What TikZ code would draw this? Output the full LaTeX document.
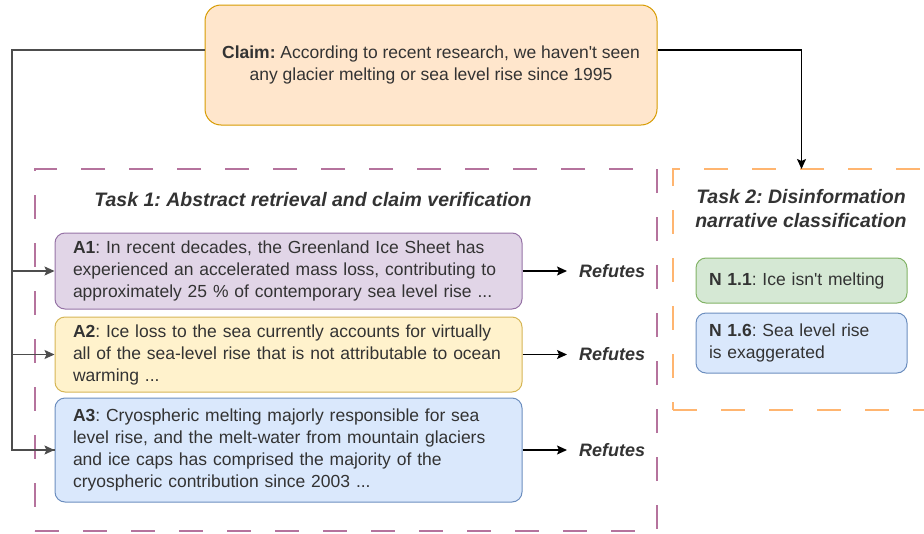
\documentclass[tikz,border=0pt]{standalone}
\usepackage{fontspec}
\setmainfont{Liberation Sans}
\usetikzlibrary{arrows.meta,positioning}
\definecolor{txt}{HTML}{333333}
\definecolor{claimfill}{HTML}{FFE6CC}\definecolor{claimdraw}{HTML}{D79B00}
\definecolor{purfill}{HTML}{E1D5E7}\definecolor{purdraw}{HTML}{9673A6}
\definecolor{yelfill}{HTML}{FFF2CC}\definecolor{yeldraw}{HTML}{D6B656}
\definecolor{blufill}{HTML}{DAE8FC}\definecolor{bludraw}{HTML}{6C8EBF}
\definecolor{grnfill}{HTML}{D5E8D4}\definecolor{grndraw}{HTML}{82B366}
\definecolor{taskpur}{HTML}{B5739D}\definecolor{taskora}{HTML}{FFB570}
\definecolor{busgray}{HTML}{4D4D4D}
\tikzset{
  basefont/.style={font=\fontsize{17.5}{22}\selectfont, text=txt},
  absbox/.style={basefont, draw, line width=1pt, rounded corners=10pt, align=left,
     minimum width=467pt, text width=431pt, inner xsep=18pt, inner ysep=0pt},
  narbox/.style={basefont, draw, line width=1pt, rounded corners=10pt, align=left,
     minimum width=211pt, text width=185pt, inner xsep=13pt, inner ysep=0pt},
  taskbox/.style={draw, line width=2.5pt, dash pattern=on 24pt off 24pt, inner sep=0pt},
  tasktitle/.style={text=txt, font=\fontsize{19.5}{24}\selectfont\bfseries\itshape, align=center},
  verdict/.style={text=txt, font=\fontsize{18}{22}\selectfont\bfseries\itshape, anchor=west, inner xsep=12pt, inner ysep=0pt},
  tip/.style={-{Stealth[length=10pt,width=9pt,inset=2pt]}},
  busline/.style={draw=busgray, line width=1.4pt},
}
\begin{document}
\frenchspacing
\begin{tikzpicture}[x=1pt,y=-1pt]
\useasboundingbox (0,0) rectangle (924,533);
\clip (0,0) rectangle (924,533);

% task frames
\node[taskbox, draw=taskpur, minimum width=622pt, minimum height=362pt] (task1) at (346,350) {};
\node[taskbox, draw=taskora, minimum width=267pt, minimum height=241pt] (task2) at (806.5,289.5) {};

% claim
\node[basefont, draw=claimdraw, fill=claimfill, line width=1pt, rounded corners=16pt,
      minimum width=452pt, minimum height=120pt, align=center] (claim) at (431,65)
  {\textbf{Claim:} According to recent research, we haven\textquotesingle t seen\\any glacier melting or sea level rise since 1995};

% titles
\node[tasktitle] (t1title) at (313,200) {Task 1: Abstract retrieval and claim verification};
\node[tasktitle] (t2title) at (801,209) {Task 2: Disinformation\\narrative classification};

% abstracts
\node[absbox, draw=purdraw, fill=purfill, minimum height=76pt] (A1) at (288.5,271)
  {\textbf{A1}: In recent decades, the Greenland Ice Sheet has\\experienced an accelerated mass loss, contributing to\\approximately 25 \% of contemporary sea level rise ...};
\node[absbox, draw=yeldraw, fill=yelfill, minimum height=75pt] (A2) at (288.5,354.5)
  {\textbf{A2}: Ice loss to the sea currently accounts for virtually\\all of the sea-level rise that is not attributable to ocean\\warming ...};
\node[absbox, draw=bludraw, fill=blufill, minimum height=104pt] (A3) at (288.5,450)
  {\textbf{A3}: Cryospheric melting majorly responsible for sea\\level rise, and the melt-water from mountain glaciers\\and ice caps has comprised the majority of the\\cryospheric contribution since 2003 ...};

% narratives
\node[narbox, draw=grndraw, fill=grnfill, minimum height=45pt] (N11) at (801.5,280.5)
  {\textbf{N 1.1}: Ice isn\textquotesingle t melting};
\node[narbox, draw=bludraw, fill=blufill, minimum height=60pt] (N16) at (801.5,343)
  {\textbf{N 1.6}: Sea level rise\\is exaggerated};

% verdicts
\node[verdict] (R1) at (567,271) {Refutes};
\node[verdict] (R2) at (567,354.5) {Refutes};
\node[verdict] (R3) at (567,450) {Refutes};

% connectors
\coordinate (bus) at (12,50);
\coordinate (t2in) at (801.5,169);
\draw[busline] ([yshift=15pt]claim.west) -- (bus) |- (A3.west);
\draw[busline, tip, fill=busgray] (bus |- A3.west) -- (A3.west);
\draw[busline, tip, fill=busgray] (bus |- A1.west) -- (A1.west);
\draw[busline, tip, fill=busgray] (bus |- A2.west) -- (A2.west);
\draw[line width=1.4pt, tip] ([yshift=15pt]claim.east) -| (t2in);
\draw[line width=1.4pt, tip] (A1.east) -- (R1.west);
\draw[line width=1.4pt, tip] (A2.east) -- (R2.west);
\draw[line width=1.4pt, tip] (A3.east) -- (R3.west);
\end{tikzpicture}
\end{document}
